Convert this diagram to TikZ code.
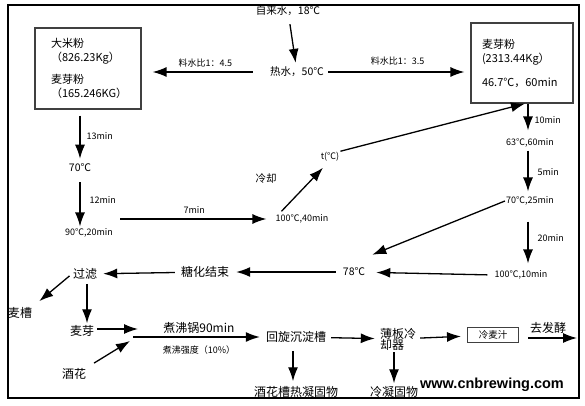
\documentclass[tikz,border=0pt]{standalone}
\usepackage{fontspec}
\setmainfont{Noto Sans CJK SC}
\newfontfamily\webfont{Liberation Sans}
\usepackage{tikz}
\usetikzlibrary{arrows.meta, calc, positioning}

\begin{document}
\begin{tikzpicture}[>={Latex[length=14pt,width=10pt]}, x=1pt, y=-1pt,
    big/.style={font=\fontsize{12}{14}\selectfont, inner sep=1pt},
    mid/.style={font=\fontsize{10.5}{13}\selectfont, inner sep=1pt},
    small/.style={font=\fontsize{9}{10}\selectfont, inner sep=1pt},
    bigbox/.style={draw=black!75, line width=1.2pt, align=left,
        font=\fontsize{11}{14}\selectfont, inner ysep=0pt},
    flow/.style={->, line width=1.3pt}]
    % 1. Khung ngoài
    \useasboundingbox (0,0) rectangle (585,406);
    \draw[line width=1.4pt] (8,5) rectangle (579,398);

    % 2. Nước và hai nồi
    \node[mid] (tap) at (288,11) {自来水，18℃};
    \node[mid] (hot) at (297,72) {热水，50℃};
    \node[bigbox, text width=74pt, inner xsep=16pt, minimum height=81pt] (rice) at (88,68.5)
        {大米粉\\（826.23Kg）\\[8pt]麦芽粉\\（165.246KG）};
    \node[bigbox, text width=80pt, inner xsep=11pt, minimum height=80pt] (malt) at (522,63)
        {麦芽粉\\(2313.44Kg）\\[10pt]46.7℃，60min};

    \draw[flow, shorten <=7pt, shorten >=3pt] (tap) -- (hot);
    \draw[flow, shorten <=16pt, shorten >=11pt] (hot.west) -- (rice.east |- hot.west)
        node[midway, above=3pt, small] (r45) {料水比1：4.5};
    \draw[flow, shorten <=3pt, shorten >=6pt] (hot.east) -- (malt.west |- hot.east)
        node[midway, above=5pt, small] (r35) {料水比1：3.5};

    % 3. Nồi gạo (cột trái)
    \node[mid] (t70) at (80,168) {70℃};
    \node[small] (t90) at (89,233) {90℃,20min};
    \node[small] (t100a) at (302,219) {100℃,40min};
    \node[small] (tc) at (330,157) {t(℃)};
    \node[mid] (cool) at (266,179) {冷却};

    \draw[flow, shorten <=6pt, shorten >=4pt] (rice.south -| t70) -- (t70)
        node[midway, right=5pt, small] (d13) {13min};
    \draw[flow, shorten <=9pt, shorten >=1pt] (t70) -- (t70 |- t90.north)
        node[midway, right=8pt, small] (d12) {12min};
    \draw[flow, shorten <=6pt, shorten >=8pt] (t90.east |- t100a) -- (t100a.west)
        node[midway, above=4pt, small] (d7) {7min};
    \draw[flow, shorten <=3pt] ([xshift=5pt]t100a.north west) -- ([xshift=-7pt,yshift=-5pt]tc.south);
    \draw[flow] (tc.north east) -- ([xshift=3pt]malt.south);

    % 4. Nồi malt (cột phải)
    \node[small] (m63) at (530,143) {63℃,60min};
    \node[small] (m70) at (530,201) {70℃,25min};
    \node[small] (m100) at (521,275) {100℃,10min};
    \node[mid] (t78) at (354,272) {78℃};

    \draw[flow, shorten >=7pt] ([xshift=6pt]malt.south) -- ([xshift=-2pt]m63.north)
        node[midway, right=5pt, small] (d10) {10min};
    \draw[flow, shorten <=2pt, shorten >=4pt] ([xshift=-2pt]m63.south) -- ([xshift=-2pt]m70.north)
        node[midway, right=8pt, small] (d5) {5min};
    \draw[flow, shorten <=15pt, shorten >=6pt] ([xshift=-2pt]m70.south) -- ([xshift=-2pt]m70.south |- m100.north)
        node[midway, right=8pt, small] (d20) {20min};
    \draw[flow, shorten <=6pt, shorten >=10pt] (m100.west) -- (t78);
    \draw[flow] (m70.west) -- ([xshift=6pt,yshift=12pt]t78.north east);

    % 5. Lọc và đun sôi
    \node[big] (sugar) at (205,272) {糖化结束};
    \node[big] (filt) at (85,274) {过滤};
    \node[big] (spent) at (20,313) {麦槽};
    \node[big] (wort) at (82,331) {麦芽};
    \node[big] (hops) at (74,374) {酒花};
    \coordinate (boilin) at (133,337);
    \node[big] (whirl) at (296,337) {回旋沉淀槽};
    \node[big, align=left] (plate) at (398,339) {薄板冷\\[-3pt]却器};
    \node[big] (hotbreak) at (296,392) {酒花槽热凝固物};
    \node[big] (coldbreak) at (394,392) {冷凝固物};
    \node[draw=black!75, line width=1pt, small, font=\fontsize{9.5}{11}\selectfont,
        minimum width=51pt, minimum height=15pt] (chill) at (493,335) {冷麦汁};
    \coordinate (ferm) at (577,338);

    \draw[flow, shorten <=6pt, shorten >=6pt] (t78) -- (sugar);
    \draw[flow, shorten <=5pt, shorten >=5pt] (sugar) -- (filt);
    \draw[flow, shorten <=3pt, shorten >=8pt] (filt.west) -- (spent.north east);
    \draw[flow, shorten <=3pt, shorten >=1pt] ([xshift=2pt]filt.south) -- ([xshift=2pt]filt.south |- wort.north);
    \draw[flow, shorten <=2pt, shorten >=-5pt] ([yshift=2pt]wort.east) -- ([yshift=2pt]wort.east -| boilin);
    \draw[flow, shorten <=8pt] (hops.north east) -- ([xshift=-3pt,yshift=-4pt]boilin);
    \draw[flow, shorten >=5pt] (boilin) -- (whirl.west)
        node[midway, above=2pt, big] (boil) {煮沸锅90min}
        node[midway, below=7pt, small] (rate) {煮沸强度（10\%）};
    \draw[flow, shorten <=7pt, shorten >=4pt] ([xshift=-3pt]hotbreak |- whirl.south) -- ([xshift=-3pt]hotbreak.north);
    \draw[flow, shorten <=4pt, shorten >=4pt] (whirl) -- (plate);
    \draw[flow, shorten <=1pt, shorten >=2pt] (coldbreak |- plate.south) -- (coldbreak.north);
    \draw[flow, shorten <=3pt, shorten >=6pt] (plate) -- (chill);
    \draw[flow, shorten <=9pt] (chill.east |- ferm) -- (ferm)
        node[midway, above=3pt, big] (ferment) {去发酵};

    % 6. Chữ trang web
    \node[font=\webfont\bfseries\fontsize{14.5}{16}\selectfont, inner sep=0pt] (web) at (492,385) {www.cnbrewing.com};
\end{tikzpicture}
\end{document}
